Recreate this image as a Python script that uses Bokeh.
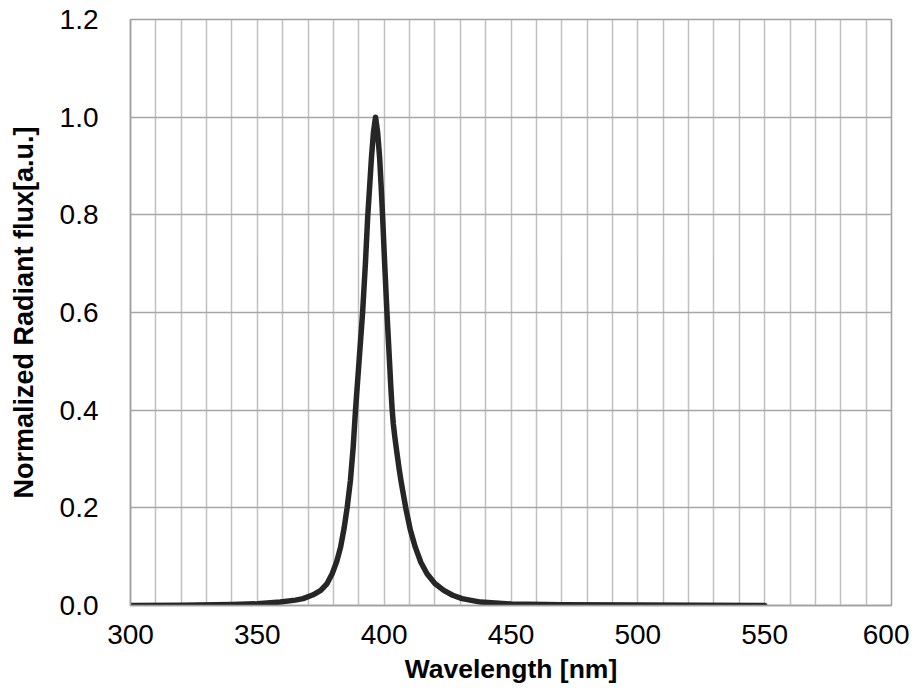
from bokeh.plotting import figure
from bokeh.models import Range1d, FixedTicker
from bokeh.embed import file_html
from bokeh.resources import INLINE

wavelength = [300, 320, 340, 350, 359, 365, 368, 372, 375, 377.5, 379.5, 381.3, 382.8,
              384.2, 385.4, 386.7, 387.8, 388.7, 390.1, 391.5, 392.6, 393.5, 394.3, 395.0,
              395.8, 396.6, 397.4, 398.2, 398.8, 399.4, 400.2, 401.1, 402.1, 402.6, 403.1,
              403.6, 404.2, 405.1, 405.9, 406.7, 408.5, 410.3, 412.3, 414.5, 416.9, 420.0,
              423.5, 427.0, 430.7, 438.0, 450.0, 470.0, 500.0, 525.0, 550.0]
flux = [0.0, 0.0005, 0.002, 0.0035, 0.007, 0.011, 0.014, 0.022, 0.031, 0.045, 0.065, 0.09, 0.119,
        0.158, 0.2, 0.256, 0.325, 0.4, 0.5, 0.6, 0.7, 0.795, 0.86, 0.918,
        0.97, 1.0, 0.97, 0.918, 0.86, 0.795, 0.7, 0.6, 0.5, 0.45, 0.405,
        0.372, 0.345, 0.31, 0.28, 0.253, 0.2, 0.155, 0.119, 0.088, 0.065, 0.045,
        0.031, 0.021, 0.014, 0.007, 0.003, 0.0015, 0.0008, 0.0004, 0.0]

x_ticks = [300, 350, 400, 450, 500, 550, 600]
x_grid = list(range(300, 601, 10))
y_ticks = [0.0, 0.2, 0.4, 0.6, 0.8, 1.0, 1.2]
y_tick_labels = {0.0: "0.0", 0.2: "0.2", 0.4: "0.4", 0.6: "0.6", 0.8: "0.8", 1.0: "1.0", 1.2: "1.2"}

p = figure(width=909, height=687, output_backend="svg", toolbar_location=None,
           x_range=Range1d(300, 600), y_range=Range1d(0, 1.2),
           min_border_left=130, min_border_right=18, min_border_top=19, min_border_bottom=82)
p.background_fill_color = "white"
p.border_fill_color = "white"
p.outline_line_color = "#a0a0a0"
p.outline_line_width = 1.5

p.xaxis.ticker = FixedTicker(ticks=x_ticks)
p.yaxis.ticker = FixedTicker(ticks=y_ticks)
p.yaxis.major_label_overrides = y_tick_labels
p.xgrid.ticker = FixedTicker(ticks=x_grid)
p.xgrid.grid_line_color = "#c0c0c0"
p.xgrid.grid_line_width = 1.5
p.ygrid.grid_line_color = "#a6a6a6"
p.ygrid.grid_line_width = 1.5

for ax in (p.xaxis, p.yaxis):
    ax.axis_line_color = "#a0a0a0"
    ax.axis_line_width = 1.5
    ax.major_tick_line_color = None
    ax.minor_tick_line_color = None
    ax.major_tick_out = 0
    ax.major_tick_in = 0
    ax.major_label_text_font = "Liberation Sans"
    ax.major_label_text_font_size = "28px"
    ax.major_label_text_color = "black"
    ax.axis_label_text_font = "Liberation Sans"
    ax.axis_label_text_font_style = "bold"
    ax.axis_label_text_color = "black"

p.xaxis.axis_label_text_font_size = "26.5px"
p.yaxis.axis_label_text_font_size = "27px"
p.xaxis.axis_label = "Wavelength [nm]"
p.yaxis.axis_label = "Normalized Radiant flux[a.u.]"
p.xaxis.major_label_standoff = 19
p.xaxis.axis_label_standoff = 7
p.yaxis.major_label_standoff = 32
p.yaxis.axis_label_standoff = 18

p.line(wavelength, flux, line_color="#262626", line_width=5.5, line_join="round", line_cap="round")

open("out.html", "w").write(file_html(p, INLINE))
